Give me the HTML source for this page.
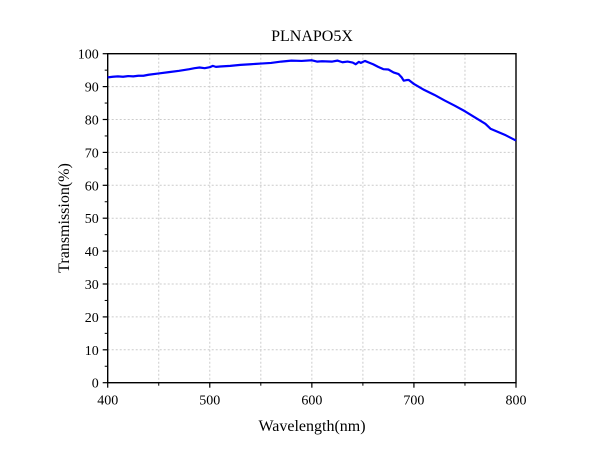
<!DOCTYPE html>
<html><head><meta charset="utf-8"><style>
body{margin:0;background:#fff}
svg{display:block;font-family:"Liberation Serif",serif}
</style></head><body>
<svg id="c" width="600" height="459"></svg>
<script>
const wavelengths=[400,405,410,415,420,425,430,435,440,450,460,470,480,485,490,495,500,503,506,510,520,530,540,550,560,570,580,590,600,605,610,620,625,630,635,640,643,646,648,652,656,660,665,670,675,680,685,688,690,693,695,700,710,720,730,740,750,760,770,775,790,800];
const transmission=[92.8,93.0,93.1,93.0,93.2,93.1,93.3,93.3,93.6,94.0,94.4,94.8,95.3,95.6,95.8,95.6,95.9,96.3,96.0,96.1,96.3,96.6,96.8,97.0,97.2,97.6,97.9,97.8,98.0,97.6,97.7,97.6,97.9,97.4,97.6,97.3,96.8,97.5,97.2,97.8,97.3,96.8,96.0,95.3,95.2,94.3,93.8,92.8,91.8,92.0,92.0,90.8,89.0,87.5,85.8,84.2,82.5,80.6,78.7,77.2,75.2,73.6];
const xTicks=[400,500,600,700,800];
const yTicks=[0,10,20,30,40,50,60,70,80,90,100];
const NS="http://www.w3.org/2000/svg";
const svg=document.getElementById('c');
const L=107.7,R=516,T=53.7,B=382.7;
const xs=v=>L+(v-400)/400*(R-L);
const ys=v=>B-v/100*(B-T);
function mk(t,a,p){const e=document.createElementNS(NS,t);for(const k in a)e.setAttribute(k,a[k]);(p||svg).appendChild(e);return e;}
// grid
for(const v of xTicks.concat([450,550,650,750])){if(v===400||v===800)continue;
const g=mk('line',{x1:xs(v),x2:xs(v),y1:T,y2:B,stroke:'#ccc','stroke-dasharray':'2,2','stroke-width':1});

}
for(const v of yTicks){if(v===0||v===100)continue;
const g=mk('line',{x1:L,x2:R,y1:ys(v),y2:ys(v),stroke:'#ccc','stroke-dasharray':'2,2','stroke-width':1});

}
// ticks
for(const v of xTicks){
const t=mk('line',{x1:xs(v),x2:xs(v),y1:B,y2:B+5,stroke:'#000','stroke-width':1.2});


const l=mk('text',{x:xs(v),y:B+22,'text-anchor':'middle','font-size':14});l.textContent=v;

}
for(let v=450;v<800;v+=100){const t=mk('line',{x1:xs(v),x2:xs(v),y1:B,y2:B+3,stroke:'#000','stroke-width':1});

}
for(const v of yTicks){
const t=mk('line',{x1:L-5,x2:L,y1:ys(v),y2:ys(v),stroke:'#000','stroke-width':1.2});


const l=mk('text',{x:L-9,y:ys(v)+5,'text-anchor':'end','font-size':14});l.textContent=v;

}
for(let v=5;v<100;v+=10){const t=mk('line',{x1:L-3,x2:L,y1:ys(v),y2:ys(v),stroke:'#000','stroke-width':1});

}
// frame
const f=mk('rect',{x:L,y:T,width:R-L,height:B-T,fill:'none',stroke:'#000','stroke-width':1.4});


// series
const p=mk('polyline',{points:wavelengths.map((w,i)=>xs(w)+','+ys(transmission[i])).join(' '),fill:'none',stroke:'#0000ff','stroke-width':2.2,'stroke-linejoin':'round'});


// titles
const ti=mk('text',{x:312,y:41,'text-anchor':'middle','font-size':16});ti.textContent='PLNAPO5X';


const xt=mk('text',{x:312,y:431,'text-anchor':'middle','font-size':16});xt.textContent='Wavelength(nm)';


const yt=mk('text',{x:0,y:0,'text-anchor':'middle','font-size':16,transform:'translate(69,218) rotate(-90)'});yt.textContent='Transmission(%)';


</script>
</body></html>
